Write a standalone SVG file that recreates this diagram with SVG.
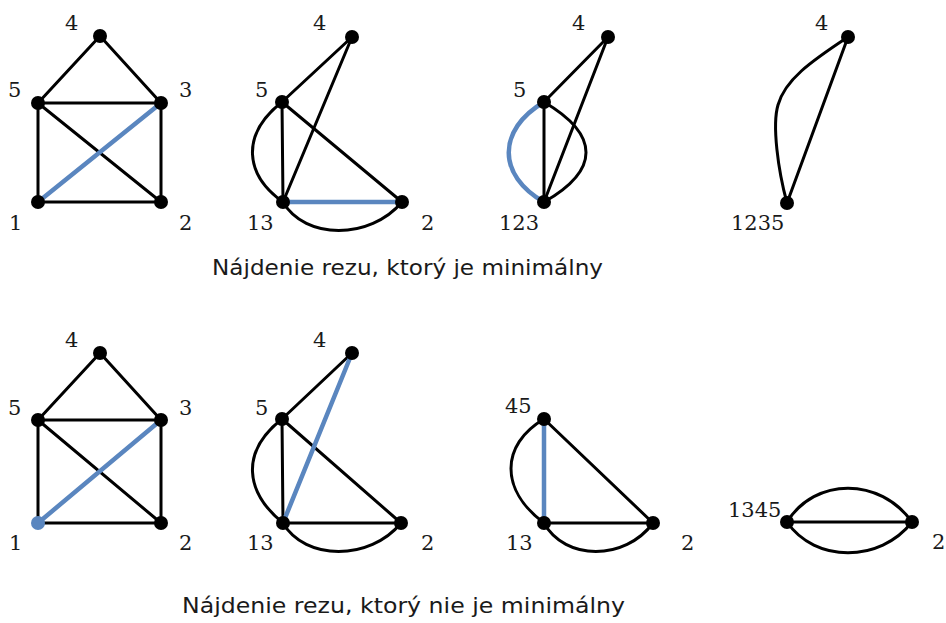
<svg xmlns="http://www.w3.org/2000/svg" width="946" height="623" viewBox="0 0 946 623">
<style>
.e{stroke:#000;stroke-width:3;fill:none;stroke-linecap:round}
.b{stroke:#5a86bf;stroke-width:4.5;fill:none;stroke-linecap:round}
.n{fill:#000}
.nb{fill:#5a86bf}
.l{font-family:"DejaVu Serif","Liberation Serif",serif;font-size:21px;fill:#1a1a1a}
.c{font-family:"DejaVu Sans","Noto Sans",sans-serif;font-size:21px;fill:#1a1a1a}
</style>
<rect width="946" height="623" fill="#fff"/>
<g id="connectors">
<line class="e" x1="100" y1="36" x2="38" y2="103"/>
<line class="e" x1="100" y1="36" x2="161" y2="103"/>
<line class="e" x1="38" y1="103" x2="161" y2="103"/>
<line class="e" x1="38" y1="103" x2="38" y2="202"/>
<line class="e" x1="161" y1="103" x2="161" y2="202"/>
<line class="e" x1="38" y1="202" x2="161" y2="202"/>
<line class="e" x1="38" y1="103" x2="161" y2="202"/>
<line class="b" x1="38" y1="202" x2="161" y2="103"/>
<line class="e" x1="352" y1="37" x2="282" y2="102"/>
<line class="e" x1="352" y1="37" x2="283" y2="202"/>
<line class="e" x1="282" y1="102" x2="283" y2="202"/>
<line class="e" x1="282" y1="102" x2="402" y2="202"/>
<path class="e" d="M282,102 C240,135 245,175 283,202"/>
<path class="e" d="M283,202 C305,240 370,240 402,202"/>
<line class="b" x1="283" y1="202" x2="402" y2="202"/>
<line class="e" x1="608" y1="37" x2="544" y2="102"/>
<line class="e" x1="608" y1="37" x2="544" y2="202"/>
<line class="e" x1="544" y1="102" x2="544" y2="202"/>
<path class="e" d="M544,102 C600,135 600,170 544,202"/>
<path class="b" d="M544,102 C497,130 497,175 544,202"/>
<line class="e" x1="848" y1="37" x2="787" y2="203"/>
<path class="e" d="M848,37 C810,62 785,80 778,105 C772,125 778,170 787,203"/>
<line class="e" x1="100" y1="353" x2="38" y2="420"/>
<line class="e" x1="100" y1="353" x2="161" y2="420"/>
<line class="e" x1="38" y1="420" x2="161" y2="420"/>
<line class="e" x1="38" y1="420" x2="38" y2="523"/>
<line class="e" x1="161" y1="420" x2="161" y2="523"/>
<line class="e" x1="38" y1="523" x2="161" y2="523"/>
<line class="e" x1="38" y1="420" x2="161" y2="523"/>
<line class="b" x1="38" y1="523" x2="161" y2="420"/>
<line class="e" x1="352" y1="353" x2="282" y2="419"/>
<line class="e" x1="282" y1="419" x2="283" y2="523"/>
<line class="e" x1="282" y1="419" x2="401" y2="523"/>
<line class="e" x1="283" y1="523" x2="401" y2="523"/>
<path class="e" d="M282,419 C240,452 245,492 283,523"/>
<path class="e" d="M283,523 C305,561 370,561 401,523"/>
<line class="b" x1="352" y1="353" x2="283" y2="523"/>
<line class="e" x1="544" y1="419" x2="653" y2="523"/>
<line class="e" x1="544" y1="523" x2="653" y2="523"/>
<path class="e" d="M544,419 C500,445 500,490 544,523"/>
<path class="e" d="M544,523 C565,561 625,561 653,523"/>
<line class="b" x1="544" y1="419" x2="544" y2="523"/>
<line class="e" x1="787" y1="522" x2="912" y2="522"/>
<path class="e" d="M787,522 C815,477 880,477 912,522"/>
<path class="e" d="M787,522 C815,563 880,563 912,522"/>
</g>
<g id="g1">
<g id="g1-n4"><circle class="n" cx="100" cy="36" r="7"/><text class="l" x="65" y="30">4</text></g>
<g id="g1-n5"><circle class="n" cx="38" cy="103" r="7"/><text class="l" x="8" y="97">5</text></g>
<g id="g1-n3"><circle class="n" cx="161" cy="103" r="7"/><text class="l" x="179" y="97">3</text></g>
<g id="g1-n1"><circle class="n" cx="38" cy="202" r="7"/><text class="l" x="9" y="230">1</text></g>
<g id="g1-n2"><circle class="n" cx="161" cy="202" r="7"/><text class="l" x="179" y="230">2</text></g>
</g>
<g id="g2">
<g id="g2-n4"><circle class="n" cx="352" cy="37" r="7"/><text class="l" x="313" y="30">4</text></g>
<g id="g2-n5"><circle class="n" cx="282" cy="102" r="7"/><text class="l" x="255" y="97">5</text></g>
<g id="g2-n13"><circle class="n" cx="283" cy="202" r="7"/><text class="l" x="247" y="230">13</text></g>
<g id="g2-n2"><circle class="n" cx="402" cy="202" r="7"/><text class="l" x="421" y="230">2</text></g>
</g>
<g id="g3">
<g id="g3-n4"><circle class="n" cx="608" cy="37" r="7"/><text class="l" x="572" y="30">4</text></g>
<g id="g3-n5"><circle class="n" cx="544" cy="102" r="7"/><text class="l" x="513" y="97">5</text></g>
<g id="g3-n123"><circle class="n" cx="544" cy="202" r="7"/><text class="l" x="499" y="230">123</text></g>
</g>
<g id="g4">
<g id="g4-n4"><circle class="n" cx="848" cy="37" r="7"/><text class="l" x="815" y="30">4</text></g>
<g id="g4-n1235"><circle class="n" cx="787" cy="203" r="7"/><text class="l" x="731" y="230">1235</text></g>
</g>
<text class="c" x="212" y="275" textLength="391" lengthAdjust="spacingAndGlyphs">Nájdenie rezu, ktorý je minimálny</text>
<g id="g5">
<g id="g5-n4"><circle class="n" cx="100" cy="353" r="7"/><text class="l" x="65" y="347">4</text></g>
<g id="g5-n5"><circle class="n" cx="38" cy="420" r="7"/><text class="l" x="8" y="415">5</text></g>
<g id="g5-n3"><circle class="n" cx="161" cy="420" r="7"/><text class="l" x="179" y="415">3</text></g>
<g id="g5-n1"><circle class="nb" cx="38" cy="523" r="7"/><text class="l" x="9" y="550">1</text></g>
<g id="g5-n2"><circle class="n" cx="161" cy="523" r="7"/><text class="l" x="179" y="550">2</text></g>
</g>
<g id="g6">
<g id="g6-n4"><circle class="n" cx="352" cy="353" r="7"/><text class="l" x="313" y="347">4</text></g>
<g id="g6-n5"><circle class="n" cx="282" cy="419" r="7"/><text class="l" x="255" y="415">5</text></g>
<g id="g6-n13"><circle class="n" cx="283" cy="523" r="7"/><text class="l" x="247" y="550">13</text></g>
<g id="g6-n2"><circle class="n" cx="401" cy="523" r="7"/><text class="l" x="421" y="550">2</text></g>
</g>
<g id="g7">
<g id="g7-n45"><circle class="n" cx="544" cy="419" r="7"/><text class="l" x="505" y="413">45</text></g>
<g id="g7-n13"><circle class="n" cx="544" cy="523" r="7"/><text class="l" x="506" y="550">13</text></g>
<g id="g7-n2"><circle class="n" cx="653" cy="523" r="7"/><text class="l" x="681" y="550">2</text></g>
</g>
<g id="g8">
<g id="g8-n1345"><circle class="n" cx="787" cy="522" r="7"/><text class="l" x="728" y="517">1345</text></g>
<g id="g8-n2"><circle class="n" cx="912" cy="522" r="7"/><text class="l" x="932" y="549">2</text></g>
</g>
<text class="c" x="182" y="613" textLength="443" lengthAdjust="spacingAndGlyphs">Nájdenie rezu, ktorý nie je minimálny</text>
</svg>
